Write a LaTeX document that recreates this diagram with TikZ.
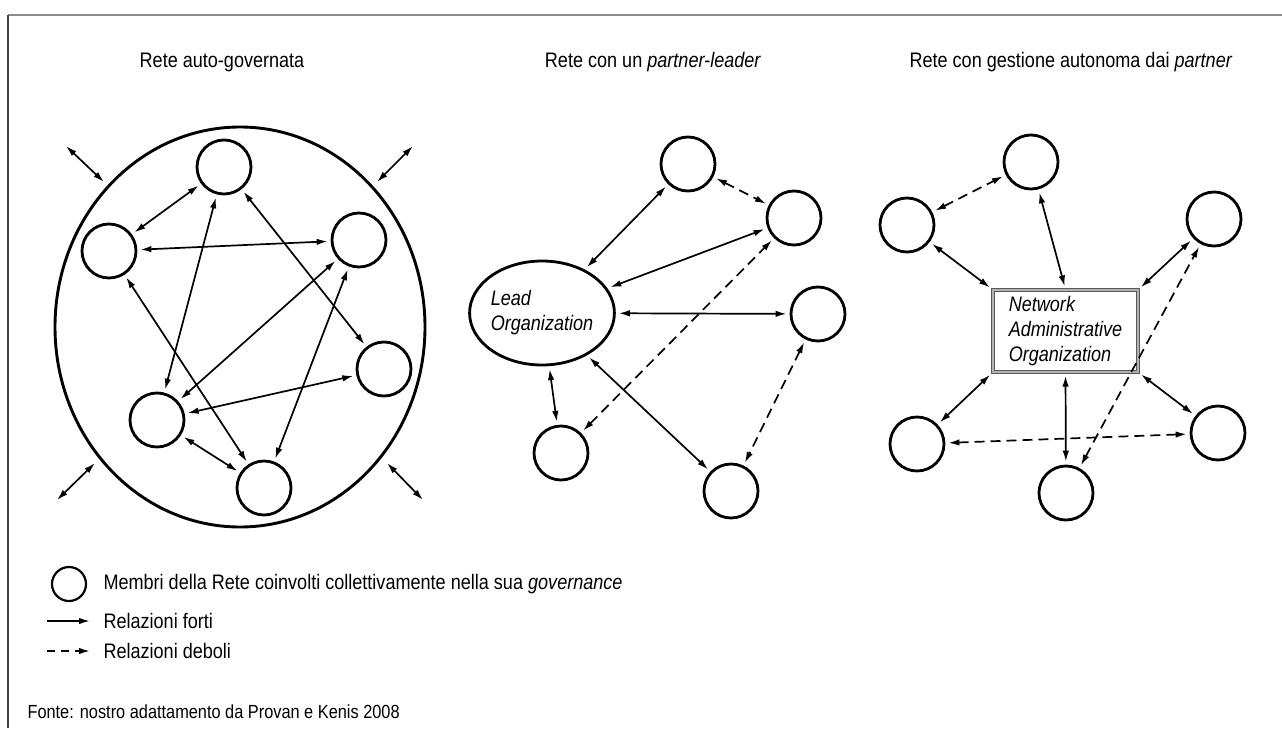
\documentclass[tikz,border=0pt]{standalone}
\usepackage{fontspec}
\setmainfont{Liberation Sans}[FakeStretch=0.86]
\usetikzlibrary{arrows.meta,shapes.geometric}
\begin{document}
\begin{tikzpicture}[x=1pt,y=-1pt,
  mem/.style={circle,draw,line width=2.8pt,minimum size=54pt,inner sep=0pt},
  strong/.style={{Latex[length=11pt,width=6.5pt]}-{Latex[length=11pt,width=6.5pt]},line width=1.7pt,shorten <=3pt,shorten >=3pt},
  weak/.style={strong,dash pattern=on 10pt off 6pt},
  single/.style={-{Latex[length=11pt,width=6.5pt]},line width=1.7pt},
  ttl/.style={font=\fontsize{21}{25}\selectfont,anchor=base},
  lgd/.style={font=\fontsize{21}{25}\selectfont,anchor=west},
  org/.style={font=\fontsize{21}{25}\selectfont\itshape,align=left}
]
\useasboundingbox (0,0) rectangle (1282,728);
\fill[white] (0,0) rectangle (1282,728);
% frame
\draw[black!45,line width=1.8pt] (8,15) -- (1282,15);
\draw[black!75,line width=1.8pt] (8,15) -- (8,728);

% titles
\node[ttl] (t1) at (222,67) {Rete auto-governata};
\node[ttl] (t2) at (653,67) {Rete con un \textit{partner-leader}};
\node[ttl] (t3) at (1071,67) {Rete con gestione autonoma dai \textit{partner}};

% ---------- left panel
\node[ellipse,draw,line width=2.9pt,minimum width=370pt,minimum height=400pt] (big) at (240,327) {};
\node[mem] (a1) at (224,167) {};
\node[mem] (a2) at (109,251) {};
\node[mem] (a3) at (359,240) {};
\node[mem] (a4) at (384,369) {};
\node[mem] (a5) at (157,420) {};
\node[mem] (a6) at (264,488) {};
\draw[strong] (a1) -- (a2);
\draw[strong] (a2) -- (a3);
\draw[strong] (a1) -- (a5);
\draw[strong] (a1) -- (a4);
\draw[strong] (a3) -- (a5);
\draw[strong] (a2) -- (a6);
\draw[strong] (a3) -- (a6);
\draw[strong] (a5) -- (a4);
\draw[strong] (a5) -- (a6);
\coordinate (o1a) at (66,146); \coordinate (o1b) at (104,182);
\coordinate (o2a) at (413,146); \coordinate (o2b) at (377,182);
\coordinate (o3a) at (57,500); \coordinate (o3b) at (95,463);
\coordinate (o4a) at (423,500); \coordinate (o4b) at (387,463);
\draw[strong,shorten <=0pt,shorten >=0pt] (o1a) -- (o1b);
\draw[strong,shorten <=0pt,shorten >=0pt] (o2a) -- (o2b);
\draw[strong,shorten <=0pt,shorten >=0pt] (o3a) -- (o3b);
\draw[strong,shorten <=0pt,shorten >=0pt] (o4a) -- (o4b);

% ---------- middle panel
\node[ellipse,draw,line width=2.8pt,minimum width=144pt,minimum height=104pt,inner sep=0pt,org] (lead) at (542,313) {Lead\\Organization};
\node[mem] (b1) at (688,164) {};
\node[mem] (b2) at (794,218) {};
\node[mem] (b3) at (818,314) {};
\node[mem] (b4) at (561,453) {};
\node[mem] (b5) at (731,491) {};
\draw[strong] (lead) -- (b1);
\draw[weak] (b1) -- (b2);
\draw[strong] (lead) -- (b2);
\draw[strong] (lead) -- (b3);
\draw[strong] (lead) -- (b4);
\draw[strong] (lead) -- (b5);
\draw[weak] (b4) -- (b2);
\draw[weak] (b3) -- (b5);

% ---------- right panel
\node[draw=black!65,line width=1.3pt,double=black!30,double distance=1.3pt,minimum width=145pt,minimum height=82pt,inner sep=0pt,org] (nao) at (1065.5,331) {Network\\Administrative\\Organization};
\node[mem] (c1) at (1031,162) {};
\node[mem] (c2) at (907,225) {};
\node[mem] (c3) at (1214,219) {};
\node[mem] (c4) at (917,444) {};
\node[mem] (c5) at (1066,493) {};
\node[mem] (c6) at (1218,433) {};
\draw[weak] (c2) -- (c1);
\draw[strong] (c1) -- (nao.north);
\draw[strong] (c2) -- (nao.north west);
\draw[strong] (c3) -- (nao.north east);
\draw[strong] (c4) -- (nao.south west);
\draw[strong] (c5) -- (nao.south);
\draw[strong] (c6) -- (nao.south east);
\draw[weak] (c4) -- (c6);
\draw[weak] (c5) -- (c3);

% ---------- legend
\node[circle,draw,line width=2.2pt,minimum size=34pt,inner sep=0pt] (lc) at (69,584) {};
\node[lgd] (l1) at (100,584) {Membri della Rete coinvolti collettivamente nella sua \textit{governance}};
\coordinate (ls1) at (47,621); \coordinate (ls2) at (90,621);
\draw[single] (ls1) -- (ls2);
\node[lgd] (l2) at (100,621) {Relazioni forti};
\coordinate (ld1) at (47,651); \coordinate (ld2) at (90,651);
\draw[single,dash pattern=on 8pt off 6pt] (ld1) -- (ld2);
\node[lgd] (l3) at (100,651) {Relazioni deboli};
\node[lgd,font=\fontsize{19}{23}\selectfont] (src) at (24,712) {Fonte: nostro adattamento da Provan e Kenis 2008};
\end{tikzpicture}
\end{document}
